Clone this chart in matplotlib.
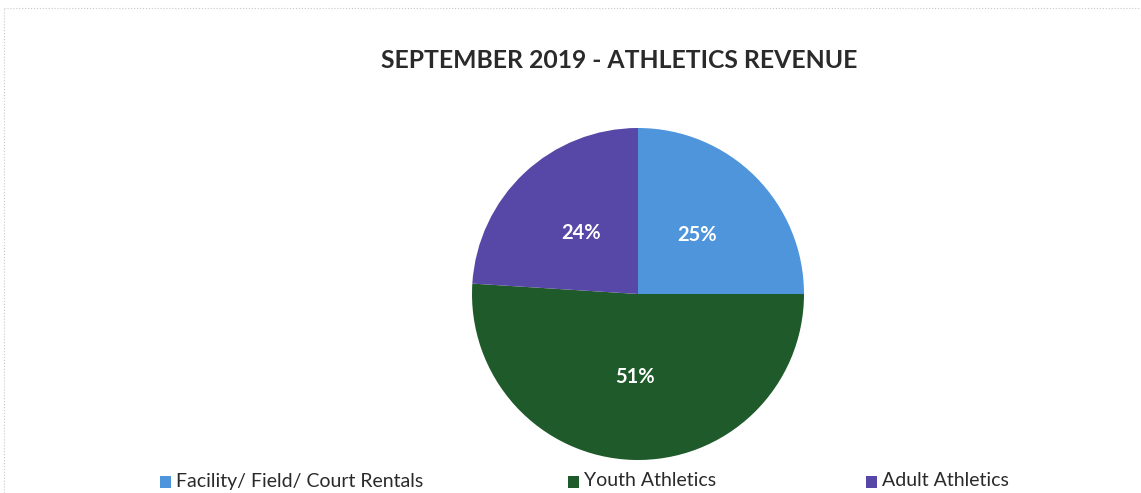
import matplotlib
matplotlib.use("Agg")
import matplotlib.pyplot as plt
from matplotlib.lines import Line2D

plt.rcParams['font.family'] = ['Lato', 'DejaVu Sans']

categories = ["Facility/ Field/ Court Rentals", "Youth Athletics", "Adult Athletics"]
shares = [25, 51, 24]
colors = ["#4f95dc", "#1f5a2b", "#5747a6"]
title = "SEPTEMBER 2019 - ATHLETICS REVENUE"

W, H = 1141, 493
fig = plt.figure(figsize=(W / 100, H / 100), dpi=100)
fig.patch.set_facecolor("white")

# faint chart-area frame
fig.add_artist(Line2D([4 / W, 1], [1 - 8 / H, 1 - 8 / H], color="#c8c8c8", lw=0.8, ls=":"))
fig.add_artist(Line2D([4 / W, 4 / W], [0, 1 - 8 / H], color="#c8c8c8", lw=0.8, ls=":"))

cx, cy, r = 638, 294, 166
ax = fig.add_axes([(cx - r) / W, (H - cy - r) / H, 2 * r / W, 2 * r / H])
wedges, texts, autotexts = ax.pie(
    shares, colors=colors, startangle=90, counterclock=False,
    autopct=lambda p: f"{p:.0f}%", pctdistance=0.5,
    textprops=dict(color="white", fontsize=14.5, fontweight="bold"),
    wedgeprops=dict(linewidth=0),
)
ax.set_xlim(-1, 1)
ax.set_ylim(-1, 1)
ax.set_aspect("equal")

fig.text(619 / W, 1 - 60 / H, title, ha="center", va="center",
         fontsize=17.8, fontweight="bold", color="#2a2a2a")

# legend row along the bottom: square swatch + label
xs = [160, 568, 866]
for x, c, lab in zip(xs, colors, categories):
    fig.patches.append(plt.Rectangle((x / W, 1 - 488 / H), 11 / W, 12 / H,
                                     transform=fig.transFigure, facecolor=c, edgecolor="none"))
    fig.text((x + 16) / W, 1 - 481 / H, lab, ha="left", va="center",
             fontsize=14, color="#2a2a2a")

fig.savefig("out.png", dpi=100)
